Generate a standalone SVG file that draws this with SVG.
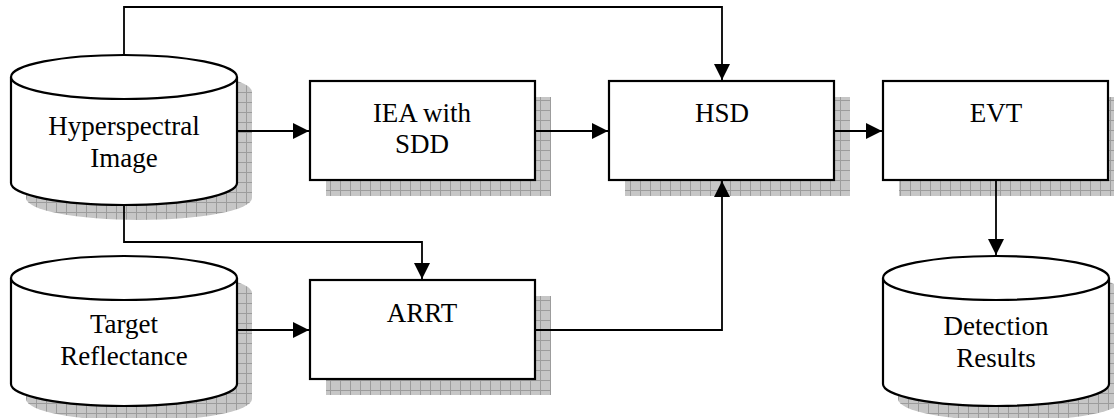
<svg xmlns="http://www.w3.org/2000/svg" width="1114" height="418" viewBox="0 0 1114 418">
<defs>
<pattern id="grid" patternUnits="userSpaceOnUse" width="10" height="10">
<rect width="10" height="10" fill="#c6c6c6"/>
<path d="M0,0.5H10M0.5,0V10" stroke="#9c9c9c" stroke-width="1"/>
</pattern>
<marker id="arr" markerUnits="userSpaceOnUse" markerWidth="16" markerHeight="16" viewBox="0 0 16 16" refX="16" refY="8" orient="auto">
<path d="M0,0L16,8L0,16Z" fill="#000"/>
</marker>
<path id="cyl" d="M0,0A113,22 0 0 1 226,0L226,106A113,22 0 0 1 0,106Z"/>
</defs>
<style>
.box{fill:#fff;stroke:#000;stroke-width:2.2}
.sh{fill:url(#grid);stroke:none}
.con{fill:none;stroke:#000;stroke-width:1.8}
text{font-family:'Times New Roman','Liberation Serif',Tinos,'Nimbus Roman','DejaVu Serif',serif;font-size:27px;fill:#000;text-anchor:middle}
</style>

<g id="hyperspectral">
<use href="#cyl" x="26" y="92" class="sh"/>
<use href="#cyl" x="11" y="77" class="box"/>
<path d="M11,77A113,22 0 0 0 237,77" class="box" fill="none"/>
<text x="124" y="135">Hyperspectral</text>
<text x="124" y="167">Image</text>
</g>

<g id="target">
<use href="#cyl" x="26" y="293" class="sh"/>
<use href="#cyl" x="11" y="278" class="box"/>
<path d="M11,278A113,22 0 0 0 237,278" class="box" fill="none"/>
<text x="124" y="333">Target</text>
<text x="124" y="365">Reflectance</text>
</g>

<g id="detection">
<use href="#cyl" x="898" y="293" class="sh"/>
<use href="#cyl" x="883" y="278" class="box"/>
<path d="M883,278A113,22 0 0 0 1109,278" class="box" fill="none"/>
<text x="996" y="335">Detection</text>
<text x="996" y="367">Results</text>
</g>

<g id="iea">
<rect x="326" y="97" width="225" height="99" class="sh"/>
<rect x="310" y="81" width="225" height="99" class="box"/>
<text x="422" y="122">IEA with</text>
<text x="422" y="153">SDD</text>
</g>

<g id="hsd">
<rect x="625" y="97" width="225" height="99" class="sh"/>
<rect x="609" y="81" width="225" height="99" class="box"/>
<text x="722" y="122">HSD</text>
</g>

<g id="evt">
<rect x="899" y="97" width="225" height="99" class="sh"/>
<rect x="883" y="81" width="225" height="99" class="box"/>
<text x="996" y="122">EVT</text>
</g>

<g id="arrt">
<rect x="326" y="296" width="225" height="99" class="sh"/>
<rect x="310" y="280" width="225" height="99" class="box"/>
<text x="422" y="322">ARRT</text>
</g>

<g id="connectors">
<path class="con" d="M124,55V7H722V80" marker-end="url(#arr)"/>
<path class="con" d="M237,131H309" marker-end="url(#arr)"/>
<path class="con" d="M535,131H608" marker-end="url(#arr)"/>
<path class="con" d="M834,131H882" marker-end="url(#arr)"/>
<path class="con" d="M996,180V255" marker-end="url(#arr)"/>
<path class="con" d="M124,206V242H422V279" marker-end="url(#arr)"/>
<path class="con" d="M237,330H309" marker-end="url(#arr)"/>
<path class="con" d="M535,330H722V181" marker-end="url(#arr)"/>
</g>
</svg>
